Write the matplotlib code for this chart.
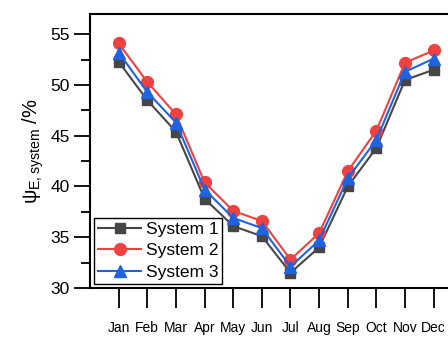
import numpy as np
import matplotlib
matplotlib.use('Agg')
from matplotlib import pyplot as plt
from matplotlib.ticker import MultipleLocator

months = ['Jan', 'Feb', 'Mar', 'Apr', 'May', 'Jun', 'Jul', 'Aug', 'Sep', 'Oct', 'Nov', 'Dec']
system_1 = [52.3, 48.5, 45.4, 38.8, 36.1, 35.1, 31.5, 34.0, 40.0, 43.8, 50.5, 51.5]
system_2 = [54.1, 50.3, 47.1, 40.4, 37.6, 36.6, 32.8, 35.4, 41.5, 45.5, 52.2, 53.4]
system_3 = [53.2, 49.3, 46.3, 39.7, 36.9, 35.9, 32.1, 34.7, 40.8, 44.6, 51.3, 52.6]

plt.rcParams['font.family'] = ['Liberation Sans', 'DejaVu Sans']
plt.rcParams['mathtext.fontset'] = 'custom'
plt.rcParams['mathtext.rm'] = 'Liberation Sans'
plt.rcParams['mathtext.it'] = 'Liberation Sans:italic'

fig = plt.figure(figsize=(4.48, 3.4), dpi=100)
ax = fig.add_axes([0.2009, 0.153, 0.7991, 0.806])

x = np.arange(1, len(months) + 1)
ax.plot(x, system_1, color='#464646', marker='s', markersize=7.5, linewidth=1.5, label='System 1', zorder=3)
ax.plot(x, system_2, color='#f04040', marker='o', markersize=8.5, linewidth=1.5, label='System 2', zorder=4)
ax.plot(x, system_3, color='#1f63e0', marker='^', markersize=8.5, linewidth=1.5, label='System 3', zorder=5)

ax.set_xlim(0, 12.5)
ax.set_ylim(30, 57)
ax.set_xticks(x)
ax.set_xticklabels(months, fontsize=10)
ax.yaxis.set_major_locator(MultipleLocator(5))
ax.yaxis.set_minor_locator(MultipleLocator(2.5))
ax.tick_params(axis='x', direction='out', length=14.5, width=1.3, pad=9)
ax.tick_params(axis='y', which='major', direction='out', length=11.5, width=1.3, labelsize=12.5, pad=3)
ax.tick_params(axis='y', which='minor', direction='out', length=6.5, width=1.3)
ax.tick_params(right=False, top=False)

for side in ['left', 'bottom', 'top']:
    ax.spines[side].set_linewidth(1.5)
ax.spines['right'].set_visible(False)

ax.set_ylabel('ψ$_{\\mathrm{E,system}}$ /%', fontsize=14.5, labelpad=3)

leg = ax.legend(loc='lower left', bbox_to_anchor=(0.0, 0.0), fontsize=12.5, handlelength=2.5,
                labelspacing=0.38, borderpad=0.2, handletextpad=0.25, borderaxespad=0.25,
                fancybox=False, framealpha=1)
leg.get_frame().set_edgecolor('black')
leg.get_frame().set_linewidth(1.0)

fig.savefig('out.png', dpi=100)
